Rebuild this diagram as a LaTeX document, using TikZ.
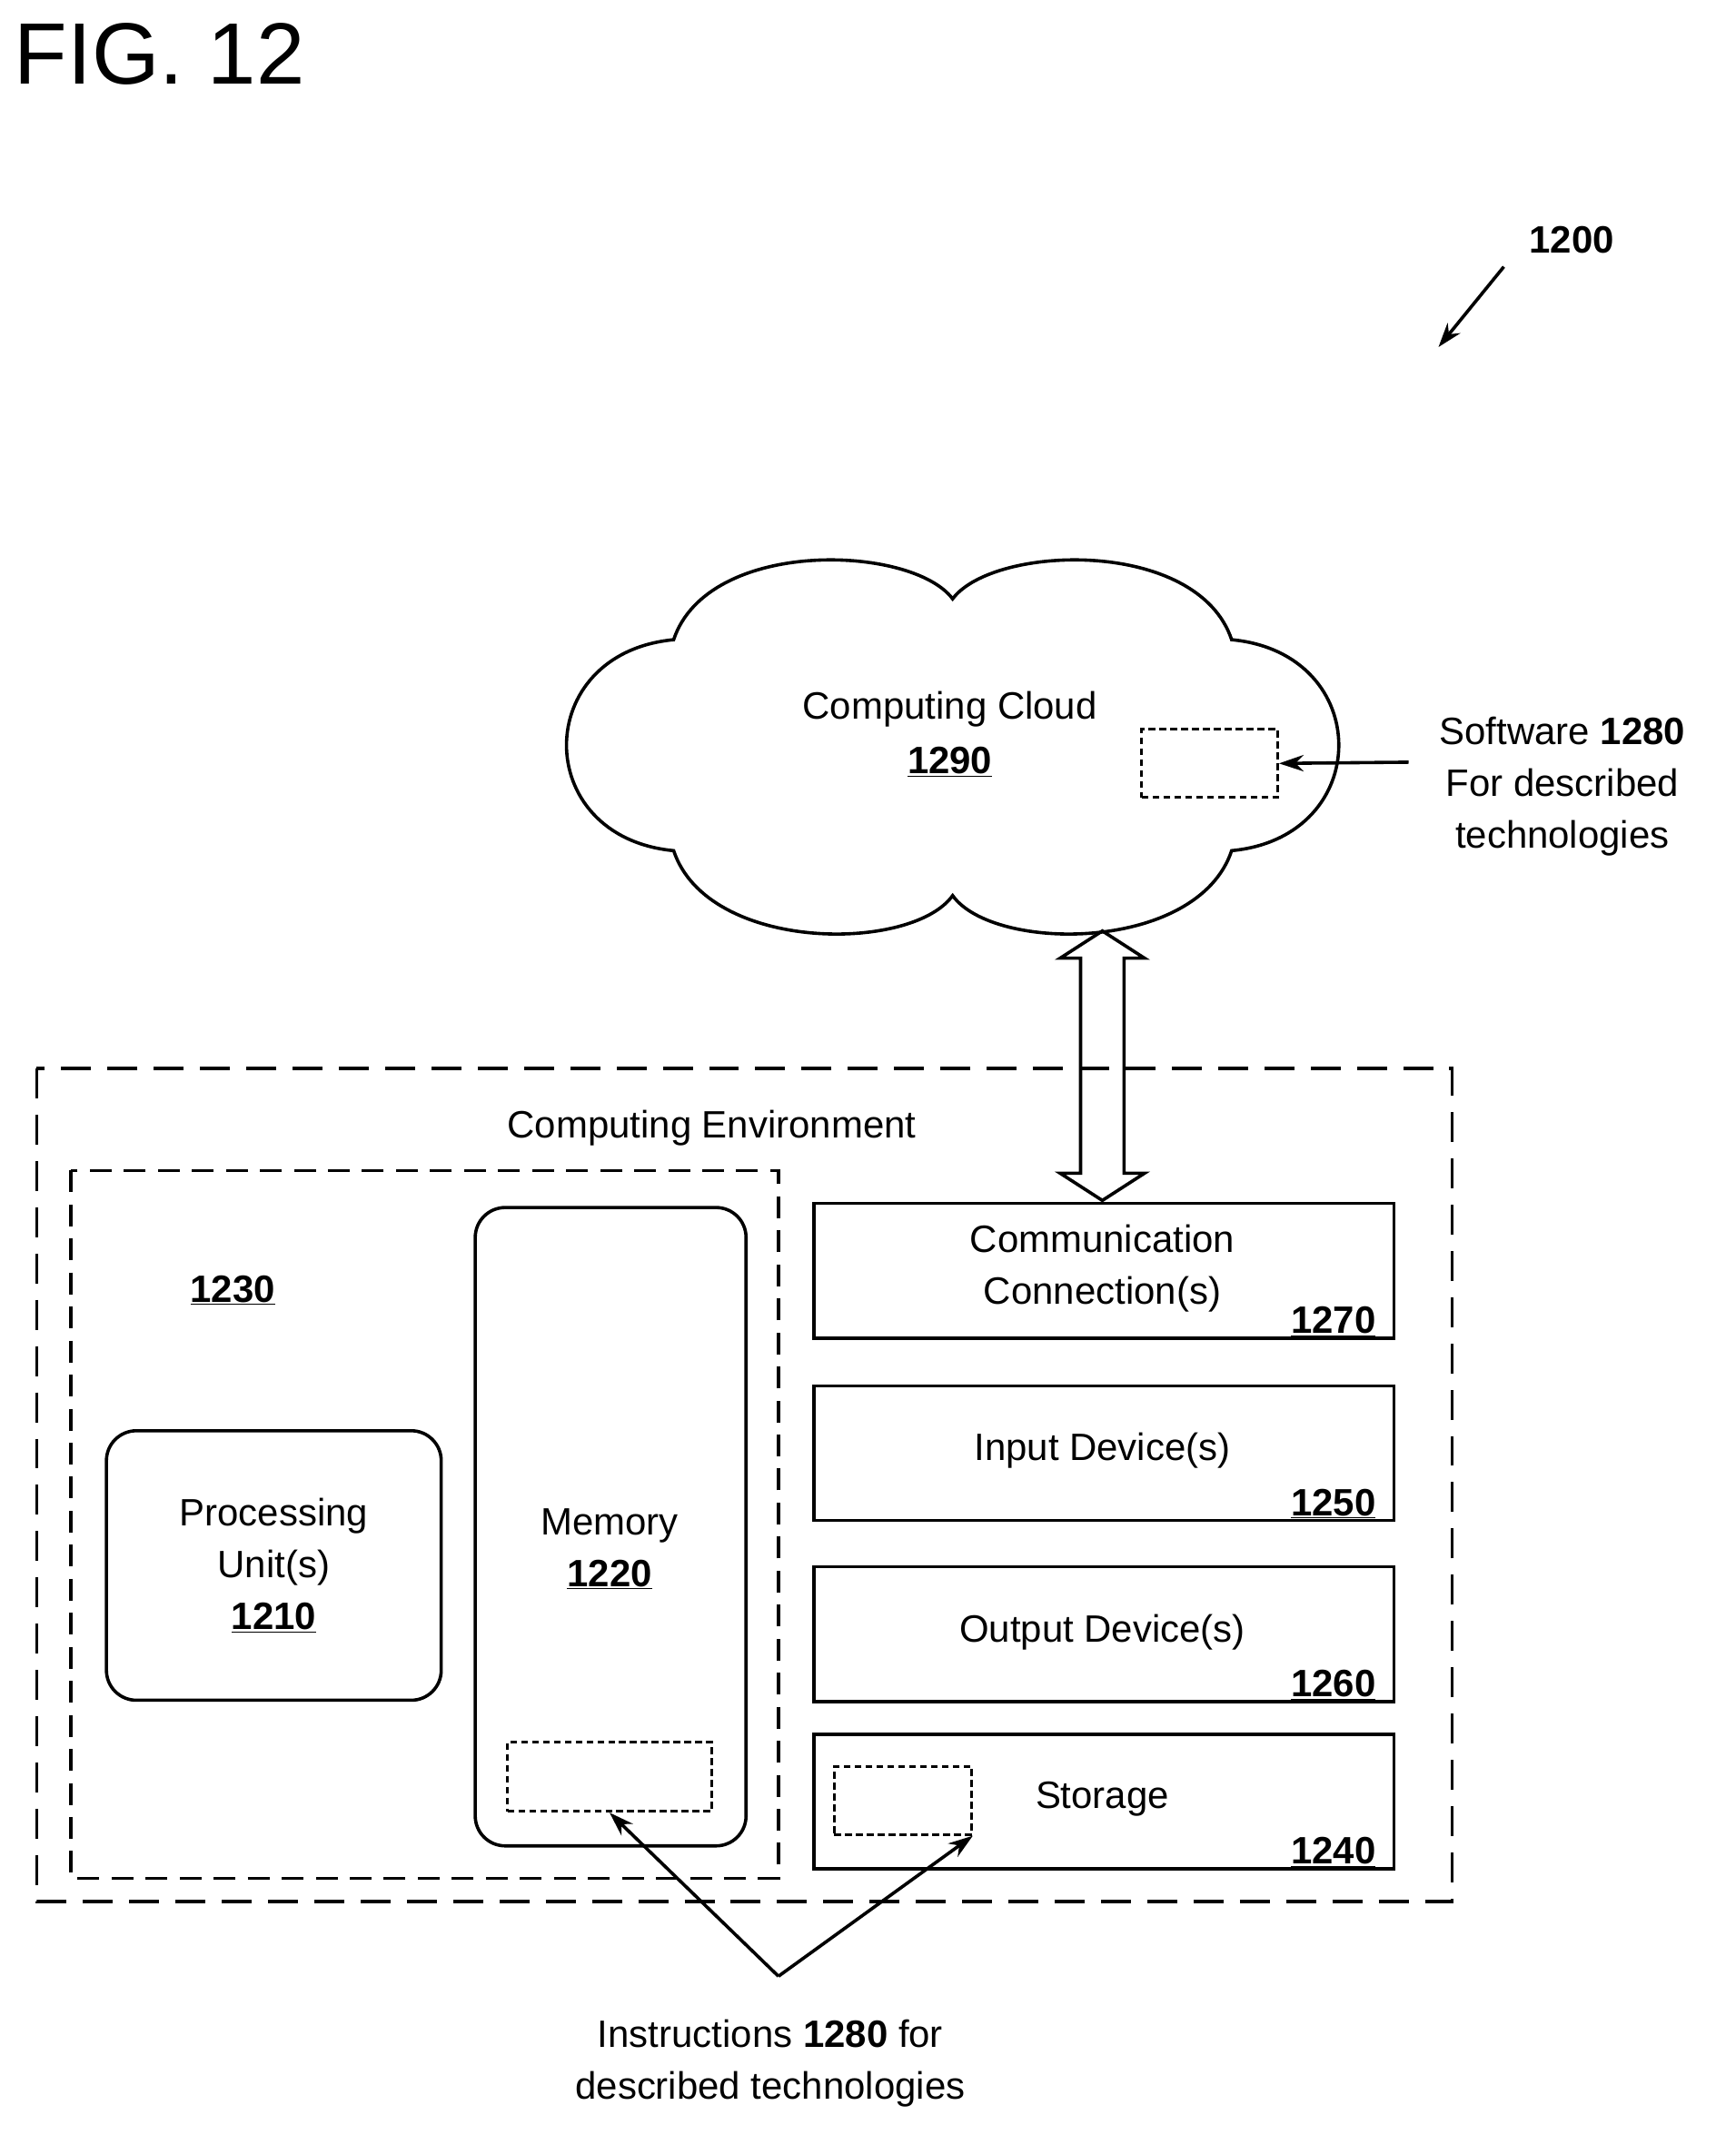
\documentclass[tikz,border=0pt]{standalone}
\usepackage{fontspec}
\setmainfont{Liberation Sans}
\usetikzlibrary{positioning,arrows.meta,calc}

\begin{document}
\begin{tikzpicture}[x=1pt, y=-1pt, line width=2.4pt,
  txt/.style = {font=\fontsize{28}{38}\selectfont, align=center},
  num/.style = {font=\fontsize{28}{34}\selectfont\bfseries},
  box/.style = {draw, minimum width=426, minimum height=99, anchor=north west},
  rbox/.style = {draw, rounded corners=22, anchor=north west},
  env/.style = {draw, dash pattern=on 22pt off 12pt},
  ins/.style = {draw, line width=1.8pt, dash pattern=on 5pt off 3pt, anchor=north west},
  arr/.style = {-{Stealth[length=18pt, width=12pt]}}]
\useasboundingbox (0,0) rectangle (1275,1576);
\newcommand{\ul}[1]{\underline{#1}}

\node[font=\fontsize{64}{66}\selectfont, anchor=west] (fig) at (6,40) {FIG. 12};
\node[num] (n1200) at (1155,176) {1200};
\coordinate (p1200) at (1057,255);
\coordinate (s1200) at (1105,196);
\draw[arr] (s1200) -- (p1200);

% cloud
\draw (700,440) .. controls (730,400) and (880,395) .. (905,470)
  .. controls (1010,480) and (1010,615) .. (905,625)
  .. controls (880,700) and (730,700) .. (700,658)
  .. controls (670,700) and (520,700) .. (495,625)
  .. controls (390,615) and (390,480) .. (495,470)
  .. controls (520,395) and (670,400) .. (700,440) -- cycle;
\node[txt] (ctext) at (698,521) {Computing Cloud};
\node[num] (c1290) at (698,560) {\ul{1290}};
\node[ins, minimum width=100, minimum height=50] (soft) at (838,535) {};
\node[txt, align=center] (stext) at (1148,578) {Software \textbf{1280}\\For described\\technologies};
\coordinate (sfrom) at (1035,560);
\draw[arr] (sfrom) -- (soft.east);

% computing environment
\draw[env] (27,785) rectangle (1067,1397);
\node[txt] (envtext) at (523,829) {Computing Environment};
\draw[env, dash pattern=on 16pt off 9pt] (52,860) rectangle (572,1380);
\node[num] (n1230) at (171,948) {\ul{1230}};

\node[rbox, minimum width=246, minimum height=198] (proc) at (77,1050) {};
\node[txt] (ptext) at (proc.center) {Processing\\Unit(s)\\\textbf{\ul{1210}}};
\node[rbox, minimum width=199, minimum height=469] (mem) at (348,886) {};
\node[txt] (mtext) at (448,1138) {Memory\\\textbf{\ul{1220}}};
\node[ins, minimum width=150, minimum height=51] (minst) at (372,1279) {};

\node[box] (comm) at (597,883) {};
\node[txt] (commt) at (810,932) {Communication\\Connection(s)};
\node[num, anchor=south east] at ([xshift=-10,yshift=-2]comm.south east) {\ul{1270}};
\node[box] (inp) at (597,1017) {};
\node[txt] at (810,1066) {Input Device(s)};
\node[num, anchor=south east] at ([xshift=-10,yshift=-2]inp.south east) {\ul{1250}};
\node[box] (outp) at (597,1150) {};
\node[txt] at (810,1199) {Output Device(s)};
\node[num, anchor=south east] at ([xshift=-10,yshift=-2]outp.south east) {\ul{1260}};
\node[box] (stor) at (597,1273) {};
\node[txt] at (810,1322) {Storage};
\node[num, anchor=south east] at ([xshift=-10,yshift=-2]stor.south east) {\ul{1240}};
\node[ins, minimum width=101, minimum height=50] (sinst) at (612,1297) {};

% link to cloud
\coordinate (ctop) at (810,684);
\coordinate (cbot) at (810,882);
\draw[line join=miter] (ctop) -- ++(31,20) -- ++(-15,0) -- ($(cbot)+(16,-20)$) -- ++(15,0) -- (cbot)
  -- ++(-31,-20) -- ++(15,0) -- ($(ctop)+(-16,20)$) -- ++(-15,0) -- cycle;

% instructions
\node[txt] (itext) at (566,1516) {Instructions \textbf{1280} for\\described technologies};
\coordinate (ifrom) at (572,1452);
\draw[arr] (ifrom) -- (minst.south);
\draw[arr] (ifrom) -- (sinst.south east);
\end{tikzpicture}
\end{document}
